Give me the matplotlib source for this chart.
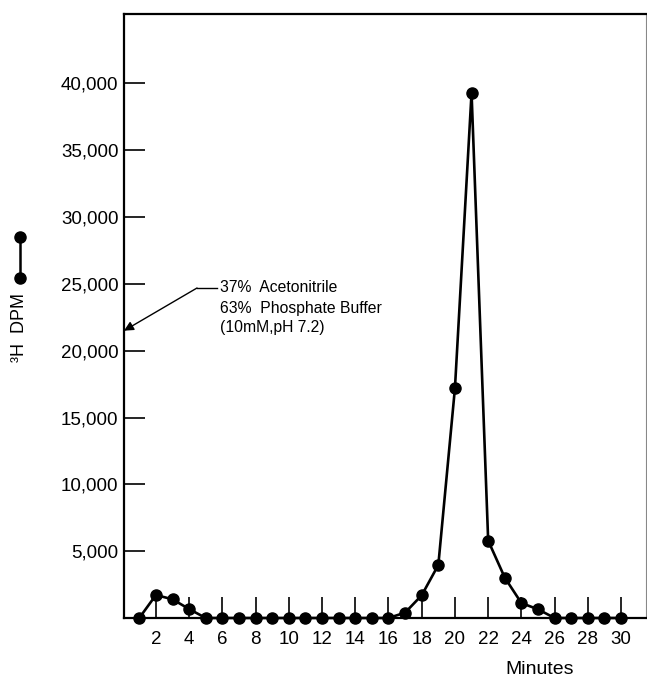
import numpy as np
import matplotlib
matplotlib.use("Agg")
import matplotlib.pyplot as plt
from matplotlib.lines import Line2D

plt.rcParams['font.family'] = ['Liberation Sans', 'DejaVu Sans']

# fraction number (minutes) and tritium counts
minutes = [1, 2, 3, 4, 5, 6, 7, 8, 9, 10, 11, 12, 13, 14, 15, 16, 17, 18, 19, 20,
           21, 22, 23, 24, 25, 26, 27, 28, 29, 30]
dpm = [0, 1720, 1400, 670, 0, 0, 0, 0, 0, 0, 0, 0, 0, 0, 0, 0, 400, 1700, 3970, 17200,
       39300, 5790, 3020, 1120, 650, 0, 0, 0, 0, 0]

x_ticks = list(range(2, 31, 2))
y_ticks = [5000, 10000, 15000, 20000, 25000, 30000, 35000, 40000]
y_tick_labels = ['5,000', '10,000', '15,000', '20,000', '25,000', '30,000', '35,000', '40,000']

note_lines = ['37%  Acetonitrile', '63%  Phosphate Buffer', '(10mM,pH 7.2)']
note_target_y = 21500

fig = plt.figure(figsize=(6.47, 6.78), dpi=100)
ax = fig.add_axes([124 / 647, 1 - 618 / 678, 522 / 647, 604 / 678])

ax.plot(minutes, dpm, color='black', lw=1.9, marker='o', ms=8,
        clip_on=False, zorder=3)

ax.set_xlim(0.08, 31.5)
ax.set_ylim(0, 45200)
ax.set_xticks(x_ticks)
ax.set_xticklabels([str(t) for t in x_ticks])
ax.set_yticks(y_ticks)
ax.set_yticklabels(y_tick_labels)
ax.tick_params(direction='in', length=15, width=1.2, labelsize=13.5)
ax.tick_params(axis='x', pad=9)
ax.tick_params(axis='y', pad=4)

for side in ['left', 'bottom', 'top']:
    ax.spines[side].set_linewidth(1.6)
ax.spines['right'].set_linewidth(0.8)
ax.spines['right'].set_color('#888888')

ax.set_xlabel('Minutes', fontsize=14)
ax.xaxis.set_label_coords(0.797, -0.086)
ax.xaxis.label.set_va('center')

# annotation with bent arrow to the axis
x_text, y_text = 220, 288
for i, line in enumerate(note_lines):
    fig.text(x_text / 647, 1 - (y_text + 20 * i) / 678, line, fontsize=11.3,
             ha='left', va='center')
fig.add_artist(Line2D([197 / 647, 217 / 647], [1 - 288 / 678, 1 - 288 / 678],
                      color='black', lw=1.0))
ax.annotate('', xy=(0.08, note_target_y), xycoords='data',
            xytext=(197 / 647, 1 - 288 / 678), textcoords='figure fraction',
            arrowprops=dict(arrowstyle='-|>', color='black', lw=1.0,
                            mutation_scale=14, shrinkA=0, shrinkB=0))

# y label with the line-and-dot symbol
fig.text(20 / 647, 1 - 328 / 678, '³H  DPM', rotation=90, fontsize=13,
         ha='center', va='center')
fig.add_artist(Line2D([20 / 647, 20 / 647], [1 - 237 / 678, 1 - 278 / 678],
                      color='black', lw=1.8, marker='o', ms=8))

fig.savefig('out.png', dpi=100)
